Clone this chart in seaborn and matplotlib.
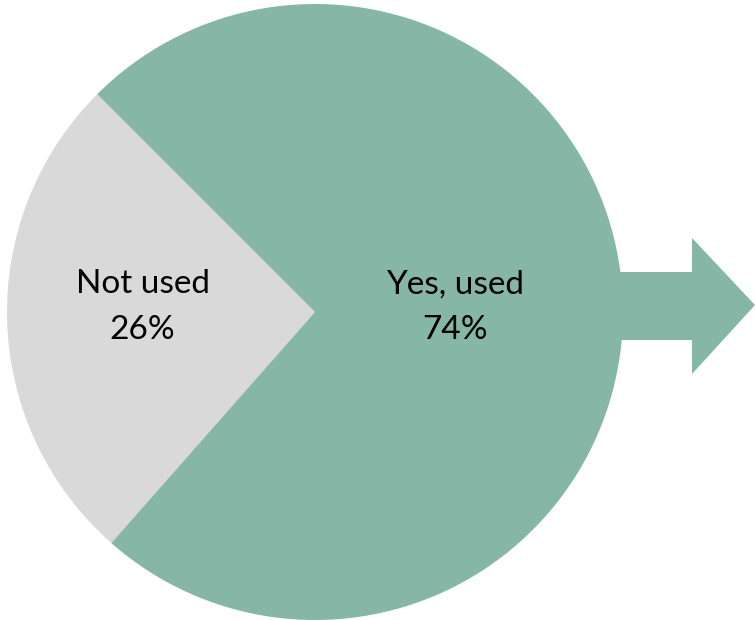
import matplotlib
matplotlib.use("Agg")
import matplotlib.pyplot as plt
import numpy as np
import seaborn as sns

# Data
categories = ["Not used", "Yes, used"]
shares = [26, 74]
colors = ["#D9D9D9", "#86B6A5"]
label_dist = [0.56, 0.455]  # label radius per slice, fraction of pie radius

sns.set_theme(style="white")
plt.rcParams["font.family"] = ["Lato", "DejaVu Sans"]

W, H = 755, 620
cx, cy, r = 315, 312, 308  # pie centre / radius in pixels

fig = plt.figure(figsize=(W / 100, H / 100), dpi=100)
ax = fig.add_axes([0, 0, 1, 1])

# arrow behind the pie, pointing right
shaft_top, shaft_bot = (cy - 272) / r, (cy - 340) / r
head_x = (692 - cx) / r
head_top, head_bot = (cy - 238) / r, (cy - 374) / r
tip_x, tip_y = (W - cx) / r, (cy - 305) / r
ax.fill([0.5, head_x, head_x, tip_x, head_x, head_x, 0.5],
        [shaft_top, shaft_top, head_top, tip_y, head_bot, shaft_bot, shaft_bot],
        color=colors[1], lw=0, zorder=1)

wedges, _ = ax.pie(shares, colors=colors, startangle=135, counterclock=True,
                   radius=1.0, center=(0, 0), wedgeprops=dict(linewidth=0),
                   frame=True)
ax.set_xlim(-cx / r, (W - cx) / r)
ax.set_ylim(-(H - cy) / r, cy / r)
ax.set_aspect("equal")
ax.axis("off")

label_y = (cy - 307) / r
for w, name, val, d in zip(wedges, categories, shares, label_dist):
    ang = np.deg2rad((w.theta1 + w.theta2) / 2)
    ax.text(d * np.cos(ang), label_y, f"{name}\n{val}%",
            ha="center", va="center", fontsize=24, color="black",
            linespacing=1.65, zorder=3)

fig.savefig("out.png", dpi=100)
